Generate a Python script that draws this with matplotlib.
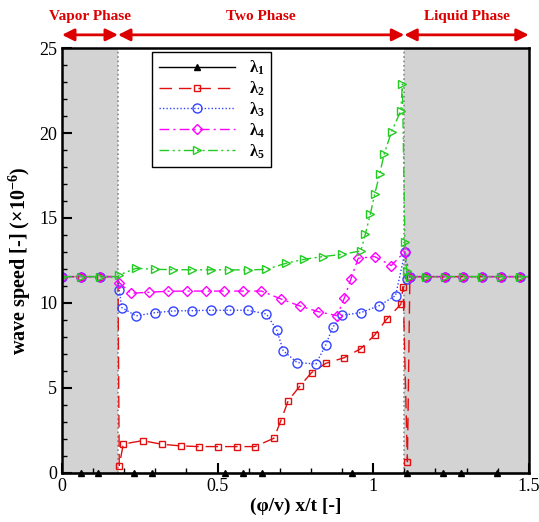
import matplotlib
matplotlib.use("Agg")
import matplotlib.pyplot as plt
from matplotlib.ticker import MultipleLocator

plt.rcParams['font.family'] = ['Liberation Serif', 'DejaVu Serif']
plt.rcParams['mathtext.fontset'] = 'custom'
plt.rcParams['mathtext.rm'] = 'Liberation Serif'
plt.rcParams['mathtext.bf'] = 'Liberation Serif:bold'
plt.rcParams['mathtext.default'] = 'regular'

# phase boundaries
x_vap = 0.18
x_liq = 1.10

# lambda_1 (zero line)
x1 = [0, 0.06, 0.115, 0.232, 0.29, 0.525, 0.583, 0.643, 0.933, 1.11, 1.225, 1.283, 1.398, 1.5]
y1 = [0] * len(x1)

left_x = [0, 0.061, 0.122, 0.18]
left_y = [11.55, 11.55, 11.55, 11.55]
right_x = [1.118, 1.171, 1.230, 1.289, 1.350, 1.412, 1.471, 1.5]
right_y = [11.55, 11.55, 11.55, 11.55, 11.55, 11.55, 11.55, 11.55]

# lambda_2
x2_mid = [0.184, 0.197, 0.259, 0.320, 0.381, 0.441, 0.501, 0.561, 0.620, 0.681, 0.703,
          0.727, 0.765, 0.802, 0.848, 0.907, 0.960, 1.005, 1.043, 1.089, 1.096, 1.11]
y2_mid = [0.43, 1.7, 1.9, 1.69, 1.59, 1.55, 1.55, 1.55, 1.55, 2.04, 3.06,
          4.25, 5.12, 5.9, 6.45, 6.78, 7.31, 8.12, 9.04, 9.92, 10.96, 0.66]

# lambda_3
x3_mid = [0.184, 0.192, 0.238, 0.299, 0.358, 0.419, 0.478, 0.537, 0.597, 0.657, 0.690,
          0.711, 0.756, 0.816, 0.848, 0.870, 0.899, 0.960, 1.019, 1.072, 1.102, 1.110]
y3_mid = [10.76, 9.73, 9.24, 9.43, 9.53, 9.55, 9.57, 9.57, 9.57, 9.35, 8.41,
          7.19, 6.49, 6.41, 7.55, 8.57, 9.27, 9.43, 9.84, 10.43, 12.98, 11.39]

# lambda_4
x4_mid = [0.184, 0.221, 0.281, 0.341, 0.402, 0.462, 0.522, 0.582, 0.641, 0.703, 0.765,
          0.823, 0.884, 0.907, 0.928, 0.952, 1.005, 1.058, 1.102]
y4_mid = [11.2, 10.57, 10.63, 10.69, 10.7, 10.7, 10.7, 10.7, 10.7, 10.24, 9.82,
          9.49, 9.25, 10.27, 11.39, 12.63, 12.73, 12.2, 13.02]

# lambda_5
x5_mid = [0.184, 0.238, 0.299, 0.358, 0.419, 0.478, 0.537, 0.597, 0.657, 0.719, 0.778,
          0.839, 0.900, 0.960, 0.975, 0.991, 1.005, 1.021, 1.035, 1.059, 1.089, 1.094,
          1.102, 1.108]
y5_mid = [11.65, 12.04, 11.98, 11.96, 11.95, 11.95, 11.95, 11.94, 11.98, 12.33, 12.57,
          12.73, 12.86, 13.06, 14.06, 15.24, 16.41, 17.59, 18.75, 20.08, 21.31, 22.88,
          13.6, 11.9]

labels = ['λ$_1$', 'λ$_2$', 'λ$_3$', 'λ$_4$', 'λ$_5$']

fig = plt.figure(figsize=(5.39, 5.22), dpi=100)
ax = fig.add_axes([0.115, 0.094, 0.866, 0.814])

ax.axvspan(0, x_vap, color='#d3d3d3', lw=0, zorder=0)
ax.axvspan(x_liq, 1.5, color='#d3d3d3', lw=0, zorder=0)
ax.axvline(x_vap, color='#888888', ls=':', lw=1.2, zorder=1)
ax.axvline(x_liq, color='#888888', ls=':', lw=1.2, zorder=1)


def marks(x):
    return [i for i, v in enumerate(x) if v not in (0.18, 1.5)]


ax.plot(x1, y1, color='black', lw=1, marker='^', ms=4, mfc='black', clip_on=False,
        markevery=list(range(1, len(x1) - 1)), label=labels[0], zorder=3)

series = [
    (x2_mid, y2_mid, '#e01010', (0, (9, 5)), 's', 4.5, labels[1]),
    (x3_mid, y3_mid, '#3344ff', (0, (1, 1.5)), 'o', 6.5, labels[2]),
    (x4_mid, y4_mid, '#ff00ff', (0, (7, 3, 1.5, 3)), 'D', 4.8, labels[3]),
    (x5_mid, y5_mid, '#22cc22', (0, (7, 2.5, 1.5, 2.5, 1.5, 2.5)), '>', 5.5, labels[4]),
]
for xm, ym, c, ls, mk, ms, lab in series:
    x = left_x + xm + right_x
    y = left_y + ym + right_y
    ax.plot(x, y, color=c, ls=ls, lw=1, marker=mk, ms=ms, mfc='none', mec=c,
            mew=1, markevery=marks(x), label=lab, zorder=3)

ax.set_xlim(0, 1.5)
ax.set_ylim(0, 25)
ax.xaxis.set_major_locator(MultipleLocator(0.5))
ax.xaxis.set_minor_locator(MultipleLocator(0.1))
ax.yaxis.set_major_locator(MultipleLocator(5))
ax.yaxis.set_minor_locator(MultipleLocator(1))
ax.set_xticks([0, 0.5, 1, 1.5])
ax.set_xticklabels(['0', '0.5', '1', '1.5'])
ax.tick_params(which='major', direction='in', length=7, width=1.5, labelsize=13)
ax.tick_params(which='minor', direction='in', length=3.5, width=1)
for s in ax.spines.values():
    s.set_linewidth(1.8)
    s.set_zorder(5)

ax.set_xlabel('(φ/v) x/t [-]', fontsize=14, fontweight='bold', labelpad=2)
ax.set_ylabel(r'wave speed [-] (×10$^{\mathbf{-6}}$)', fontsize=14.5, fontweight='bold', labelpad=4)

leg = ax.legend(loc='upper left', bbox_to_anchor=(0.193, 0.991), borderaxespad=0,
                fancybox=False, edgecolor='black', framealpha=1, handlelength=4.6,
                numpoints=1, labelspacing=0.15, prop={'size': 12, 'weight': 'bold'})
leg.get_frame().set_linewidth(1)
leg.set_zorder(6)

# phase arrows on top
red = '#dd0000'
spans = [(0, x_vap, 'Vapor Phase'), (x_vap, x_liq, 'Two Phase'), (x_liq, 1.5, 'Liquid Phase')]
for a, b, txt in spans:
    ax.annotate('', xy=(a, 1.031), xytext=(b, 1.031), xycoords=('data', 'axes fraction'),
                textcoords=('data', 'axes fraction'), annotation_clip=False,
                arrowprops=dict(arrowstyle='<|-|>', color=red, lw=2, mutation_scale=18,
                                shrinkA=0, shrinkB=0))
    ax.text((a + b) / 2, 1.075, txt, transform=ax.get_xaxis_transform(), ha='center',
            va='center', color=red, fontsize=11, fontweight='bold')

fig.savefig('out.png', dpi=100)
